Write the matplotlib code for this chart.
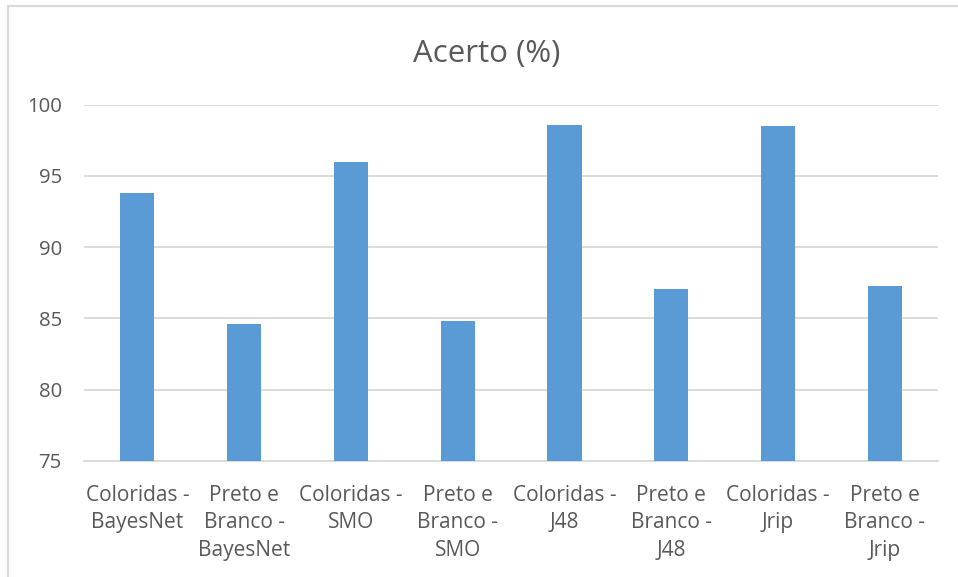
import numpy as np
import matplotlib
matplotlib.use("Agg")
import matplotlib.pyplot as plt
from matplotlib.patches import Rectangle

categories = [
    "Coloridas -\nBayesNet",
    "Preto e\nBranco -\nBayesNet",
    "Coloridas -\nSMO",
    "Preto e\nBranco -\nSMO",
    "Coloridas -\nJ48",
    "Preto e\nBranco -\nJ48",
    "Coloridas -\nJrip",
    "Preto e\nBranco -\nJrip",
]
acerto = [93.77, 84.59, 95.96, 84.82, 98.60, 87.08, 98.53, 87.29]
yticks = [75, 80, 85, 90, 95, 100]

text_color = "#595959"
grid_color = "#D9D9D9"
bar_color = "#5B9BD5"

plt.rcParams["font.family"] = ["Open Sans", "DejaVu Sans"]

fig = plt.figure(figsize=(9.58, 5.77), dpi=100)
ax = fig.add_axes([84 / 958, 1 - 461 / 577, (938.3 - 84) / 958, (461 - 104.7) / 577])

x = np.arange(len(categories))
ax.bar(x, acerto, width=0.32, color=bar_color, zorder=3)

ax.set_xlim(-0.5, len(categories) - 0.5)
ax.set_ylim(75, 100)
ax.set_yticks(yticks)
ax.set_yticklabels([str(v) for v in yticks], color=text_color, fontsize=14.7)
ax.set_xticks(x)
ax.set_xticklabels(categories, color=text_color, fontsize=15, linespacing=1.42, va="top")
ax.tick_params(axis="both", length=0)
ax.tick_params(axis="x", pad=17)
ax.tick_params(axis="y", pad=16)

ax.grid(axis="y", color=grid_color, linewidth=1.3, zorder=0)
for s in ["top", "right", "left"]:
    ax.spines[s].set_visible(False)
ax.spines["bottom"].set_color(grid_color)
ax.spines["bottom"].set_linewidth(1.3)

fig.text(487 / 958, 1 - 54 / 577, "Acerto (%)", ha="center", va="center",
         fontsize=22.5, color=text_color)

# chart border (only top and left edges visible in the crop)
fig.add_artist(Rectangle((8 / 958, -0.05), 1.1, 1 - 6 / 577 + 0.05, transform=fig.transFigure,
                         fill=False, edgecolor=grid_color, linewidth=1.5))

fig.savefig("out.png", dpi=100)
